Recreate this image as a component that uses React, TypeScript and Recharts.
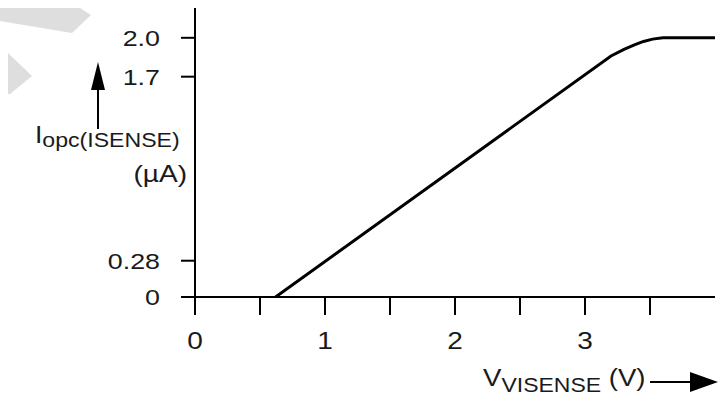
import { LineChart, Line, XAxis, YAxis } from "recharts";

// V(VISENSE) in volts and I(opc) in µA
const vSense = [0.62, 3.2, 3.3, 3.38, 3.45, 3.52, 3.6, 4.0];
const iOpc = [0, 1.86, 1.91, 1.945, 1.972, 1.99, 2.0, 2.0];

const xTicks = [0, 0.5, 1, 1.5, 2, 2.5, 3, 3.5];
const yTicks = [0, 0.28, 1.7, 2.0];
const yTickLabels = ["0", "0.28", "1.7", "2.0"];

const data = vSense.map((v, i) => ({ v, i: iOpc[i] }));

const FONT = "'Liberation Sans', Arial, Helvetica, sans-serif";
const INK = "#1a1a1a";
const STRETCH = 1.22;

const XTick = (props: any) => {
  const { x, y, payload } = props;
  const val = payload.value as number;
  if (!Number.isInteger(val)) return null;
  return (
    <g transform={`translate(${x},${y})`}>
      <text
        transform={`scale(${STRETCH},1)`}
        textAnchor="middle"
        dy="0.71em"
        fontSize={23}
        fontFamily={FONT}
        fill={INK}
      >
        {String(val)}
      </text>
    </g>
  );
};

const YTick = (props: any) => {
  const { x, y, payload } = props;
  const idx = yTicks.indexOf(payload.value);
  return (
    <g transform={`translate(${x},${y})`}>
      <text
        transform={`scale(${STRETCH},1)`}
        textAnchor="end"
        dy="0.355em"
        fontSize={22}
        fontFamily={FONT}
        fill={INK}
      >
        {yTickLabels[idx] ?? String(payload.value)}
      </text>
    </g>
  );
};

const Overlay = () => (
  <svg
    width={718}
    height={398}
    style={{ position: "absolute", left: 0, top: 0, pointerEvents: "none" }}
  >
    {/* faint grey shapes in the corner */}
    <polygon points="0,8 80,8 91,15 72,33 0,21" fill="#dedede" />
    <polygon points="8,53 32,76 10,94 8,94" fill="#dedede" />

    {/* y axis title with arrow */}
    <line x1={98} y1={88} x2={98} y2={129} stroke="#000" strokeWidth={2} />
    <polygon points="98,62 91,90 105,90" fill="#000" />
    <g transform="translate(35,143) scale(1.1,1)">
      <text fontFamily={FONT} fill={INK}>
        <tspan fontSize={24}>I</tspan>
        <tspan fontSize={21} dy={4}>opc(ISENSE)</tspan>
      </text>
    </g>
    <g transform="translate(187,182) scale(1.22,1)">
      <text fontFamily={FONT} fill={INK} fontSize={23} textAnchor="end">
        (µA)
      </text>
    </g>

    {/* x axis title with arrow */}
    <g transform="translate(483,386) scale(1.15,1)">
      <text fontFamily={FONT} fill={INK}>
        <tspan fontSize={24}>V</tspan>
        <tspan fontSize={20} dy={6}>VISENSE</tspan>
        <tspan fontSize={24} dy={-6}> (V)</tspan>
      </text>
    </g>
    <line x1={650} y1={382} x2={692} y2={382} stroke="#000" strokeWidth={2} />
    <polygon points="690,372 718,382 690,392" fill="#000" />
  </svg>
);

const App = () => {
  return (
    <div
      style={{
        position: "absolute",
        left: 0,
        top: 0,
        width: 718,
        height: 398,
        background: "#fff",
      }}
    >
      <Overlay />
      <div style={{ position: "absolute", left: 0, top: 0 }}>
        <LineChart
          width={718}
          height={398}
          data={data}
          margin={{ top: 8, right: 3, bottom: 0, left: 0 }}
        >
          <XAxis
            dataKey="v"
            type="number"
            domain={[0, 4]}
            ticks={xTicks}
            interval={0}
            height={101}
            tickSize={18}
            tickMargin={18}
            axisLine={{ stroke: "#000", strokeWidth: 2 }}
            tickLine={{ stroke: "#000", strokeWidth: 2 }}
            tick={<XTick />}
            allowDataOverflow
          />
          <YAxis
            type="number"
            domain={[0, 2.23]}
            ticks={yTicks}
            interval={0}
            width={195}
            tickSize={14}
            tickMargin={21}
            axisLine={{ stroke: "#000", strokeWidth: 2 }}
            tickLine={{ stroke: "#000", strokeWidth: 2 }}
            tick={<YTick />}
            allowDataOverflow
          />
          <Line
            dataKey="i"
            type="linear"
            stroke="#000"
            strokeWidth={3}
            dot={false}
            isAnimationActive={false}
          />
        </LineChart>
      </div>
    </div>
  );
};

export default App;
